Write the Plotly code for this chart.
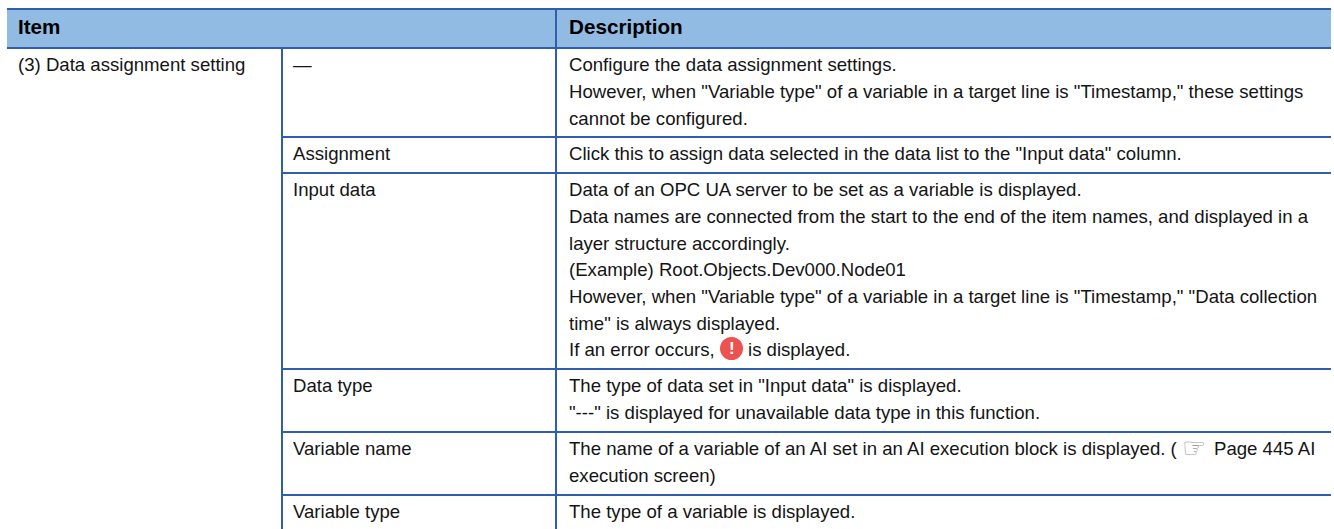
import plotly.graph_objects as go

WIDTH, HEIGHT = 1334, 529
BLUE = "#2f5fac"
HEAD = "#91bbe2"
TXT = "#141414"
FONT = "Liberation Sans"
SIZE = 18.6

# table geometry (px)
col_left, col_mid, col_desc, col_right = 7, 282, 556, 1331
head_top, head_bottom = 9, 48
row_lines = [137, 173, 369, 432, 495]
bottom = 529

headers = ["Item", "Description"]
group_item = "(3) Data assignment setting"
sub_items = ["—", "Assignment", "Input data", "Data type", "Variable name", "Variable type"]
sub_item_y = [64, 153, 189, 385, 448, 511]

desc_lines = [
    (64, 'Configure the data assignment settings.'),
    (91, 'However, when "Variable type" of a variable in a target line is "Timestamp," these settings'),
    (118, 'cannot be configured.'),
    (153, 'Click this to assign data selected in the data list to the "Input data" column.'),
    (189, 'Data of an OPC UA server to be set as a variable is displayed.'),
    (216, 'Data names are connected from the start to the end of the item names, and displayed in a'),
    (243, 'layer structure accordingly.'),
    (269, '(Example) Root.Objects.Dev000.Node01'),
    (296, 'However, when "Variable type" of a variable in a target line is "Timestamp," "Data collection'),
    (323, 'time" is always displayed.'),
    (349, 'If an error occurs,'),
    (385, 'The type of data set in "Input data" is displayed.'),
    (412, '"---" is displayed for unavailable data type in this function.'),
    (448, 'The name of a variable of an AI set in an AI execution block is displayed. ('),
    (475, 'execution screen)'),
    (511, 'The type of a variable is displayed.'),
]
inline_pieces = [
    (746, 349, 'is displayed.'),
    (1212, 448, 'Page 445 AI'),
]

fig = go.Figure()
shapes = [
    dict(type="rect", x0=col_left, x1=col_right, y0=head_top, y1=head_bottom,
         fillcolor=HEAD, line_width=0, layer="below"),
]
def hline(y, x0, x1):
    shapes.append(dict(type="line", x0=x0, x1=x1, y0=y, y1=y, line=dict(color=BLUE, width=2)))
def vline(x, y0, y1):
    shapes.append(dict(type="line", x0=x, x1=x, y0=y0, y1=y1, line=dict(color=BLUE, width=2)))
hline(head_top, col_left, col_right)
hline(head_bottom, col_left, col_right)
for y in row_lines:
    hline(y, col_mid, col_right)
vline(col_mid, head_bottom, bottom)
vline(col_desc, head_top, bottom)
# error icon
shapes.append(dict(type="circle", x0=720, x1=743, y0=337, y1=360, fillcolor="#ec5350", line_width=0))

ann = []
def text(x, y, s, bold=False, color=TXT, size=SIZE, anchor="left", family=FONT):
    ann.append(dict(x=x, y=y, text=f"<b>{s}</b>" if bold else s, showarrow=False,
                    xanchor=anchor, yanchor="middle", xref="x", yref="y",
                    font=dict(family=family, size=size, color=color)))
text(16, 26, headers[0], bold=True, color="#000000", size=20.67)
text(566.5, 26, headers[1], bold=True, color="#000000", size=20.67)
text(16, 64, group_item)
for s, y in zip(sub_items, sub_item_y):
    text(290.5, y, s)
for y, s in desc_lines:
    text(566.5, y, s)
for x, y, s in inline_pieces:
    text(x, y, s)
text(731.5, 348.5, "!", bold=True, color="#ffffff", size=17, anchor="center")
text(1194, 447.5, "☞", color="#9a9a9a", size=27, anchor="center", family="DejaVu Sans")

fig.update_layout(
    width=WIDTH, height=HEIGHT, margin=dict(l=0, r=0, t=0, b=0),
    paper_bgcolor="white", plot_bgcolor="white", showlegend=False,
    xaxis=dict(range=[0, WIDTH], visible=False, fixedrange=True),
    yaxis=dict(range=[HEIGHT, 0], visible=False, fixedrange=True),
    shapes=shapes, annotations=ann,
)
fig.write_html("out.html", config=dict(displayModeBar=False),
               post_script="document.body.style.margin='0';document.body.style.overflow='hidden';")
